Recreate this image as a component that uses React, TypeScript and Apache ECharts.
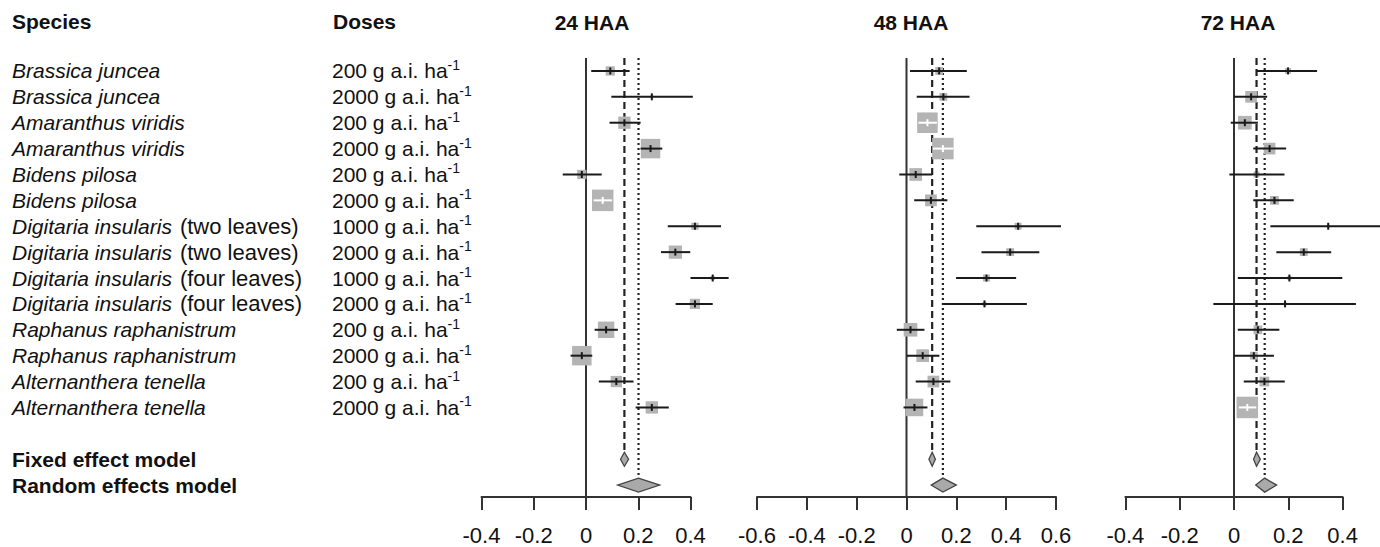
import React, { useEffect, useRef } from "react";
import * as echarts from "echarts";

const FONT = "'Liberation Sans', Arial, Helvetica, sans-serif";

// ---- categories ----
const species = [
  "Brassica juncea", "Brassica juncea",
  "Amaranthus viridis", "Amaranthus viridis",
  "Bidens pilosa", "Bidens pilosa",
  "Digitaria insularis", "Digitaria insularis",
  "Digitaria insularis", "Digitaria insularis",
  "Raphanus raphanistrum", "Raphanus raphanistrum",
  "Alternanthera tenella", "Alternanthera tenella",
];
const stages = ["", "", "", "", "", "", "(two leaves)", "(two leaves)", "(four leaves)", "(four leaves)", "", "", "", ""];
const doses = [200, 2000, 200, 2000, 200, 2000, 1000, 2000, 1000, 2000, 200, 2000, 200, 2000];
const panelTitles = ["24 HAA", "48 HAA", "72 HAA"];
const pooledLabels = ["Fixed effect model", "Random effects model"];

// ---- 24 HAA ----
const est24 = [0.093, 0.252, 0.147, 0.247, -0.016, 0.064, 0.417, 0.342, 0.485, 0.417, 0.077, -0.016, 0.116, 0.252];
const lo24 = [0.020, 0.097, 0.090, 0.209, -0.089, 0.029, 0.313, 0.287, 0.400, 0.343, 0.033, -0.059, 0.049, 0.190];
const hi24 = [0.167, 0.409, 0.209, 0.292, 0.060, 0.100, 0.517, 0.399, 0.546, 0.485, 0.122, 0.024, 0.182, 0.317];
const w24 = [3.5, 0.4, 6.2, 15.5, 3.5, 18.9, 2.1, 7.2, 0.7, 4.3, 11.0, 15.5, 5.2, 6.2];
const fixed24 = [0.147, 0.132, 0.163]; // estimate, lower, upper
const random24 = [0.201, 0.121, 0.282];
const ticks24 = [-0.4, 0.4];

// ---- 48 HAA ----
const est48 = [0.131, 0.148, 0.084, 0.146, 0.037, 0.098, 0.448, 0.416, 0.321, 0.313, 0.016, 0.065, 0.108, 0.032];
const lo48 = [0.014, 0.041, 0.048, 0.106, -0.029, 0.031, 0.280, 0.301, 0.199, 0.148, -0.039, 0.001, 0.037, -0.012];
const hi48 = [0.242, 0.253, 0.122, 0.188, 0.103, 0.164, 0.620, 0.533, 0.440, 0.483, 0.072, 0.132, 0.176, 0.084];
const w48 = [2.7, 2.7, 18.6, 20.4, 7.1, 6.1, 2.1, 2.7, 2.1, 0.7, 8.2, 7.1, 6.1, 13.6];
const fixed48 = [0.103, 0.090, 0.116];
const random48 = [0.146, 0.099, 0.200];
const ticks48 = [-0.6, 0.6];

// ---- 72 HAA ----
const est72 = [0.199, 0.063, 0.040, 0.131, 0.083, 0.149, 0.347, 0.257, 0.204, 0.188, 0.088, 0.073, 0.112, 0.049];
const lo72 = [0.083, 0.000, -0.012, 0.071, -0.017, 0.071, 0.134, 0.156, 0.014, -0.076, 0.014, 0.000, 0.036, 0.018];
const hi72 = [0.306, 0.122, 0.088, 0.192, 0.186, 0.220, 0.560, 0.358, 0.399, 0.449, 0.167, 0.147, 0.187, 0.082];
const w72 = [2.5, 9.8, 13.4, 9.8, 2.5, 5.5, 0.6, 4.4, 1.1, 0.6, 5.5, 4.4, 6.8, 33.1];
const fixed72 = [0.083, 0.072, 0.097];
const random72 = [0.113, 0.080, 0.157];
const ticks72 = [-0.4, 0.4];

const ROW_FIXED = 16;
const ROW_RANDOM = 17;
const Y_MIN = 0.5;
const Y_MAX = 17.46;

const panels = [
  { est: est24, lo: lo24, hi: hi24, w: w24, fixed: fixed24, random: random24, range: ticks24, left: 481.5, width: 209, titleX: 592 },
  { est: est48, lo: lo48, hi: hi48, w: w48, fixed: fixed48, random: random48, range: ticks48, left: 757, width: 299, titleX: 911 },
  { est: est72, lo: lo72, hi: hi72, w: w72, fixed: fixed72, random: random72, range: ticks72, left: 1125.4, width: 217.2, titleX: 1238 },
];

const INK = "#1a1a1a";

function buildOption() {
  const grids: any[] = [];
  const xAxes: any[] = [];
  const yAxes: any[] = [];
  const series: any[] = [];

  panels.forEach((p, gi) => {
    grids.push({ left: p.left, width: p.width, top: 58, height: 439, containLabel: false });
    xAxes.push({
      type: "value",
      gridIndex: gi,
      min: p.range[0],
      max: p.range[1],
      interval: 0.2,
      axisLine: { show: true, onZero: false, lineStyle: { color: "#333", width: 2 } },
      axisTick: { show: true, length: 13, lineStyle: { color: "#333", width: 2 } },
      axisLabel: {
        fontSize: 22,
        fontFamily: FONT,
        color: "#111",
        margin: 27,
        formatter: (v: number) => String(Math.round(v * 10) / 10),
      },
      splitLine: { show: false },
    });
    yAxes.push({ type: "value", gridIndex: gi, min: Y_MIN, max: Y_MAX, inverse: true, show: false });

    // reference lines: 0 (solid), fixed (dashed), random (dotted)
    series.push({
      type: "custom",
      xAxisIndex: gi,
      yAxisIndex: gi,
      clip: false,
      z: 1,
      silent: true,
      data: [[0, 0], [p.fixed[0], 1], [p.random[0], 2]],
      encode: { x: 0 },
      renderItem: (_params: any, api: any) => {
        const x = api.value(0);
        const kind = api.value(1);
        const top = api.coord([x, Y_MIN]);
        let bottomY: number;
        if (kind === 0) bottomY = api.coord([x, Y_MAX])[1];
        else if (kind === 1) bottomY = api.coord([x, ROW_FIXED])[1] - 9;
        else bottomY = api.coord([x, ROW_RANDOM])[1] - 9;
        const dash = kind === 0 ? undefined : kind === 1 ? [7, 4] : [2, 3];
        return {
          type: "line",
          shape: { x1: top[0], y1: top[1], x2: top[0], y2: bottomY },
          style: { stroke: kind === 0 ? "#333" : "#222", lineWidth: kind === 0 ? 2 : 2.2, lineDash: dash },
        };
      },
    });

    // study squares + CIs
    const maxW = Math.max(...p.w);
    series.push({
      type: "custom",
      xAxisIndex: gi,
      yAxisIndex: gi,
      clip: false,
      z: 3,
      silent: true,
      data: p.est.map((e, i) => [i + 1, e, p.lo[i], p.hi[i], p.w[i]]),
      encode: { x: [1, 2, 3], y: 0 },
      renderItem: (_params: any, api: any) => {
        const row = api.value(0);
        const e = api.value(1);
        const l = api.value(2);
        const h = api.value(3);
        const wt = api.value(4);
        const pe = api.coord([e, row]);
        const pl = api.coord([l, row]);
        const ph = api.coord([h, row]);
        const side = 21.5 * Math.sqrt(wt / maxW);
        const inside = pl[0] >= pe[0] - side / 2 && ph[0] <= pe[0] + side / 2;
        const col = inside ? "#ffffff" : INK;
        return {
          type: "group",
          children: [
            { type: "rect", shape: { x: pe[0] - side / 2, y: pe[1] - side / 2, width: side, height: side }, style: { fill: "#b4b4b4" } },
            { type: "line", shape: { x1: pl[0], y1: pe[1], x2: ph[0], y2: pe[1] }, style: { stroke: col, lineWidth: 2 } },
            { type: "line", shape: { x1: pe[0], y1: pe[1] - 3.5, x2: pe[0], y2: pe[1] + 3.5 }, style: { stroke: col, lineWidth: 2 } },
          ],
        };
      },
    });

    // pooled diamonds
    series.push({
      type: "custom",
      xAxisIndex: gi,
      yAxisIndex: gi,
      clip: false,
      z: 4,
      silent: true,
      data: [
        [ROW_FIXED, p.fixed[0], p.fixed[1], p.fixed[2]],
        [ROW_RANDOM, p.random[0], p.random[1], p.random[2]],
      ],
      encode: { x: [1, 2, 3], y: 0 },
      renderItem: (_params: any, api: any) => {
        const row = api.value(0);
        const c = api.coord([api.value(1), row]);
        const l = api.coord([api.value(2), row]);
        const h = api.coord([api.value(3), row]);
        const hh = 7;
        return {
          type: "polygon",
          shape: { points: [[l[0], c[1]], [c[0], c[1] - hh], [h[0], c[1]], [c[0], c[1] + hh]] },
          style: { fill: "#a9a9a9", stroke: "#444", lineWidth: 1.3 },
        };
      },
    });
  });

  // left text columns (rows follow the first panel's y scale)
  const labelData = species.map((s, i) => [0, i + 1, i]);
  series.push({
    type: "custom",
    xAxisIndex: 0,
    yAxisIndex: 0,
    clip: false,
    z: 5,
    silent: true,
    data: labelData,
    encode: { y: 1 },
    renderItem: (_params: any, api: any) => {
      const row = api.value(1);
      const idx = api.value(2);
      const y = api.coord([0, row])[1];
      const stage = stages[idx];
      const spText = "{i|" + species[idx] + "}" + (stage ? "{p|" + stage + "}" : "");
      return {
        type: "group",
        children: [
          {
            type: "text",
            x: 12,
            y,
            style: {
              text: spText,
              fontSize: 21,
              fontFamily: FONT,
              fill: "#111",
              align: "left",
              verticalAlign: "middle",
              rich: {
                i: { fontStyle: "italic", fontSize: 21, fontFamily: FONT, fill: "#111" },
                p: { fontSize: 22, fontFamily: FONT, fill: "#111", padding: [0, 0, 0, 8] },
              },
            },
          },
          {
            type: "text",
            x: 332,
            y,
            style: {
              text: doses[idx] + " g a.i. ha{s|-1}",
              fontSize: 21,
              fontFamily: FONT,
              fill: "#111",
              align: "left",
              verticalAlign: "middle",
              rich: { s: { fontSize: 14, fontFamily: FONT, fill: "#111", padding: [0, 0, 12, 0] } },
            },
          },
        ],
      };
    },
  });

  series.push({
    type: "custom",
    xAxisIndex: 0,
    yAxisIndex: 0,
    clip: false,
    z: 5,
    silent: true,
    data: [[0, ROW_FIXED, 0], [0, ROW_RANDOM, 1]],
    encode: { y: 1 },
    renderItem: (_params: any, api: any) => {
      const y = api.coord([0, api.value(1)])[1];
      return {
        type: "text",
        x: 12,
        y,
        style: {
          text: pooledLabels[api.value(2)],
          fontSize: 21,
          fontWeight: "bold",
          fontFamily: FONT,
          fill: "#111",
          align: "left",
          verticalAlign: "middle",
        },
      };
    },
  });

  const headerStyle = { fontSize: 21, fontWeight: "bold", fontFamily: FONT, fill: "#111", verticalAlign: "middle" };
  const graphic: any[] = [
    { type: "text", left: 12, top: 11, style: { ...headerStyle, text: "Species" } },
    { type: "text", left: 333, top: 11, style: { ...headerStyle, text: "Doses" } },
    ...panels.map((p, i) => ({
      type: "text",
      x: p.titleX,
      y: 22,
      style: { ...headerStyle, text: panelTitles[i], align: "center" },
    })),
  ];

  return {
    animation: false,
    backgroundColor: "#ffffff",
    grid: grids,
    xAxis: xAxes,
    yAxis: yAxes,
    series,
    graphic,
  };
}

export default function App() {
  const ref = useRef<HTMLDivElement>(null);
  useEffect(() => {
    if (!ref.current) return;
    const chart = echarts.init(ref.current, undefined, { renderer: "svg" });
    chart.setOption(buildOption() as any);
    return () => chart.dispose();
  }, []);
  return (
    <div
      ref={ref}
      style={{ position: "fixed", left: 0, top: 0, width: 1380, height: 547, background: "#fff" }}
    />
  );
}
